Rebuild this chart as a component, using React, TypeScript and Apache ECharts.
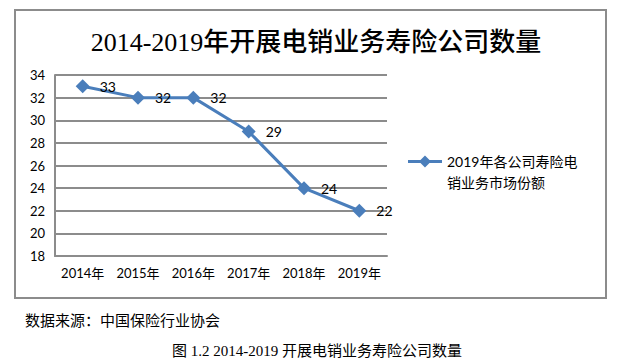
import React, { useEffect, useRef } from "react";
import * as echarts from "echarts";

const categories = ["2014年", "2015年", "2016年", "2017年", "2018年", "2019年"];
const values = [33, 32, 32, 29, 24, 22];
const seriesName = "2019年各公司寿险电销业务市场份额";
const chartTitle = "2014-2019年开展电销业务寿险公司数量";
const sourceText = "数据来源：中国保险行业协会";
const captionText = "图 1.2 2014-2019 开展电销业务寿险公司数量";

// legend icon: line + diamond at the top, invisible speck at the bottom so the
// icon aligns with the first line of the two-line legend text
const legendIcon =
  "path://M0 4.5 L34 4.5 L34 7.5 L0 7.5 Z M17 0 L23 6 L17 12 L11 6 Z M0 33 L0.01 33 L0.01 33.01 Z";

export default function App() {
  const ref = useRef<HTMLDivElement>(null);
  useEffect(() => {
    if (!ref.current) return;
    const chart = echarts.init(ref.current, null, { renderer: "svg" });
    const sans = "Lato, 'Noto Sans CJK SC', sans-serif";
    chart.setOption({
      animation: false,
      backgroundColor: "#ffffff",
      title: [
        {
          text: chartTitle,
          left: 311,
          top: 24,
          textAlign: "center",
          textStyle: {
            fontFamily: "'Liberation Serif', 'Noto Sans CJK SC', serif",
            fontSize: 26,
            fontWeight: 500,
            color: "#000",
          },
        },
        {
          text: sourceText,
          left: 20,
          top: 307,
          textStyle: { fontFamily: sans, fontSize: 15, fontWeight: "normal", color: "#000" },
        },
        {
          text: captionText,
          left: 312,
          top: 338,
          textAlign: "center",
          textStyle: {
            fontFamily: "'Liberation Serif', 'Noto Sans CJK SC', serif",
            fontSize: 15,
            fontWeight: "normal",
            color: "#000",
          },
        },
      ],
      graphic: [
        {
          type: "rect",
          shape: { x: 15, y: 10, width: 591, height: 288 },
          style: { fill: "none", stroke: "#8c8c8c", lineWidth: 2 },
          silent: true,
        },
      ],
      legend: {
        left: 408,
        top: 151,
        padding: 0,
        orient: "vertical",
        itemWidth: 34,
        itemHeight: 33,
        icon: legendIcon,
        itemStyle: { borderWidth: 0, color: "#4a7ebb" },
        data: [seriesName],
        formatter: () => "2019年各公司寿险电\n销业务市场份额",
        textStyle: {
          fontFamily: sans,
          fontSize: 14,
          color: "#000",
          lineHeight: 21,
        },
      },
      grid: { left: 55, right: 240, top: 75, bottom: 106 },
      xAxis: {
        type: "category",
        data: categories,
        boundaryGap: true,
        axisLine: { show: true, lineStyle: { color: "#8c8c8c", width: 2 } },
        axisTick: { show: false },
        axisLabel: { fontFamily: sans, fontSize: 13, color: "#000", margin: 10, interval: 0 },
      },
      yAxis: {
        type: "value",
        min: 18,
        max: 34,
        interval: 2,
        axisLine: { show: true, lineStyle: { color: "#8c8c8c", width: 2 } },
        axisTick: { show: false },
        axisLabel: { fontFamily: sans, fontSize: 13, color: "#000", margin: 10 },
        splitLine: { show: true, lineStyle: { color: "#8c8c8c", width: 2 } },
      },
      series: [
        {
          name: seriesName,
          type: "line",
          data: values,
          symbol: "diamond",
          symbolSize: 14,
          lineStyle: { color: "#4a7ebb", width: 3 },
          itemStyle: { color: "#4a7ebb" },
          label: {
            show: true,
            position: "right",
            distance: 10,
            fontFamily: sans,
            fontSize: 14,
            color: "#000",
          },
        },
      ],
    });
    return () => chart.dispose();
  }, []);
  return (
    <div
      ref={ref}
      style={{ position: "absolute", left: 0, top: 0, width: 627, height: 362 }}
    />
  );
}
